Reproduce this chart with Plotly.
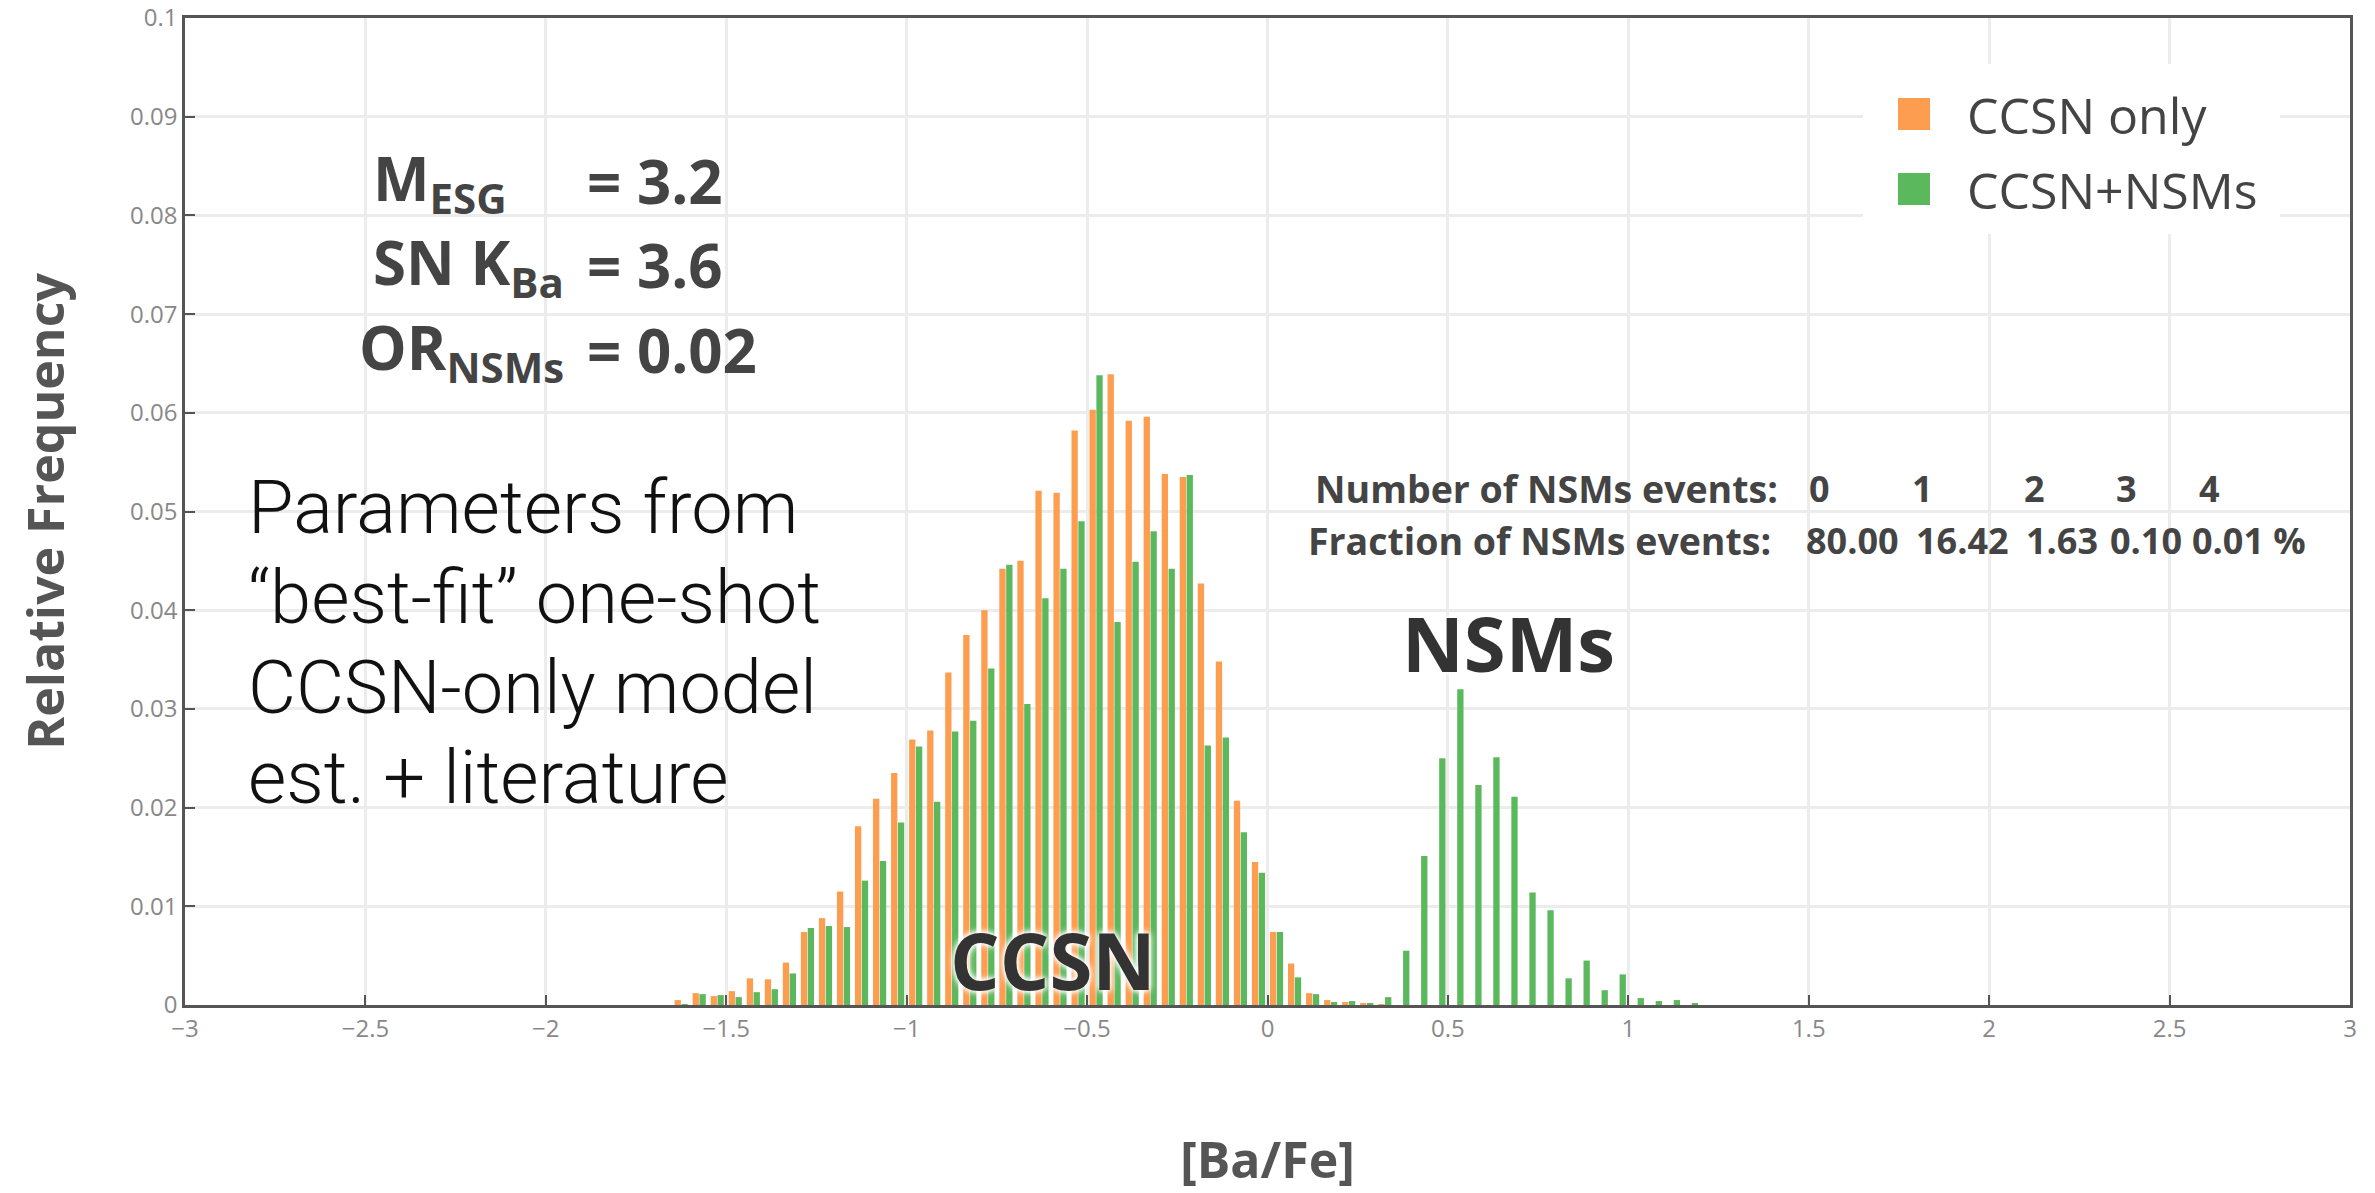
import plotly.graph_objects as go

# ---------------- data ----------------
bin_centers = [-1.625, -1.575, -1.525, -1.475, -1.425, -1.375, -1.325, -1.275, -1.225, -1.175,
               -1.125, -1.075, -1.025, -0.975, -0.925, -0.875, -0.825, -0.775, -0.725, -0.675,
               -0.625, -0.575, -0.525, -0.475, -0.425, -0.375, -0.325, -0.275, -0.225, -0.175,
               -0.125, -0.075, -0.025, 0.025, 0.075, 0.125, 0.175, 0.225, 0.275, 0.325,
               0.375, 0.425, 0.475, 0.525, 0.575, 0.625, 0.675, 0.725, 0.775, 0.825,
               0.875, 0.925, 0.975, 1.025, 1.075, 1.125, 1.175]

ccsn_only = [0.0005, 0.0012, 0.0009, 0.0014, 0.0027, 0.0026, 0.0043, 0.0074, 0.0088, 0.0115,
             0.0181, 0.0209, 0.0235, 0.0269, 0.0278, 0.0337, 0.0375, 0.0400, 0.0442, 0.0450,
             0.0521, 0.0519, 0.0582, 0.0603, 0.0639, 0.0592, 0.0596, 0.0538, 0.0535, 0.0427,
             0.0348, 0.0207, 0.0145, 0.0074, 0.0042, 0.0012, 0.0005, 0.0003, 0.0002, 0.0001,
             0, 0, 0, 0, 0, 0, 0, 0, 0, 0,
             0, 0, 0, 0, 0, 0, 0]

ccsn_nsms = [0.0001, 0.0011, 0.0010, 0.0008, 0.0013, 0.0016, 0.0032, 0.0078, 0.0080, 0.0079,
             0.0126, 0.0146, 0.0185, 0.0262, 0.0206, 0.0277, 0.0288, 0.0341, 0.0446, 0.0305,
             0.0412, 0.0442, 0.0490, 0.0638, 0.0388, 0.0449, 0.0480, 0.0442, 0.0537, 0.0263,
             0.0271, 0.0175, 0.0134, 0.0074, 0.0028, 0.0011, 0.0003, 0.0004, 0.0002, 0.0008,
             0.0055, 0.0151, 0.0250, 0.0320, 0.0223, 0.0251, 0.0211, 0.0114, 0.0096, 0.0027,
             0.0045, 0.0015, 0.0031, 0.0007, 0.0004, 0.0005, 0.0002]

series_names = ["CCSN only", "CCSN+NSMs"]
series_colors = ["#fd9d4f", "#5cb85c"]

nsm_event_counts = ["0", "1", "2", "3", "4"]
nsm_event_fractions = ["80.00", "16.42", "1.63", "0.10", "0.01 %"]

params_lines = [("M<sub>ESG</sub>", "= 3.2"), ("SN K<sub>Ba</sub>", "= 3.6"), ("OR<sub>NSMs</sub>", "= 0.02")]
note_lines = ["Parameters from", "\u201cbest-fit\u201d one-shot", "CCSN-only model", "est. + literature"]

# ---------------- layout helpers ----------------
W, H = 2375, 1193
L, R, T, B = 185, 25, 18, 188


def px(x):
    return (x - L) / (W - L - R)


def py(y):
    return (H - B - y) / (H - T - B)


fig = go.Figure()
fig.add_trace(go.Bar(x=bin_centers, y=ccsn_only, name=series_names[0],
                     marker=dict(color=series_colors[0], line=dict(width=0))))
fig.add_trace(go.Bar(x=bin_centers, y=ccsn_nsms, name=series_names[1],
                     marker=dict(color=series_colors[1], line=dict(width=0))))

BOLD = "Open Sans"
ann = []
shapes = []

# parameter block
p_rows = [(509, 181), (566, 265), (566, 350)]
for (lhs, rhs), (xr, yc) in zip(params_lines, p_rows):
    ann.append(dict(text="<b>" + lhs + "</b>", x=px(xr), y=py(yc), xanchor="right", yanchor="middle",
                    font=dict(family=BOLD, size=60, color="#444")))
    ann.append(dict(text="<b>" + rhs + "</b>", x=px(585), y=py(yc), xanchor="left", yanchor="middle",
                    font=dict(family=BOLD, size=60, color="#444")))

# note block
for i, line in enumerate(note_lines):
    ann.append(dict(text=line, x=px(246), y=py(507 + 90 * i), xanchor="left", yanchor="middle",
                    font=dict(family="Roboto", size=74, color="#111", weight=300)))

# NSM events table
TAB = 36
ann.append(dict(text="<b>Number of NSMs events:</b>", x=px(1313), y=py(488), xanchor="left", yanchor="middle",
                font=dict(family=BOLD, size=37.5, color="#444")))
ann.append(dict(text="<b>Fraction of NSMs events:</b>", x=px(1306), y=py(540), xanchor="left", yanchor="middle",
                font=dict(family=BOLD, size=37.5, color="#444")))
for t, xc in zip(nsm_event_counts, [1819, 1922, 2034, 2126, 2209]):
    ann.append(dict(text="<b>" + t + "</b>", x=px(xc), y=py(488), xanchor="center", yanchor="middle",
                    font=dict(family=BOLD, size=TAB, color="#444")))
for t, xl in zip(nsm_event_fractions, [1804, 1914, 2024, 2108, 2190]):
    ann.append(dict(text="<b>" + t + "</b>", x=px(xl), y=py(540), xanchor="left", yanchor="middle",
                    font=dict(family=BOLD, size=TAB, color="#444")))

# peak labels
halo = "0 0 4px white, 0 0 6px white, 0 0 8px white"
ann.append(dict(text="<b>CCSN</b>", x=px(1053), y=py(960), xanchor="center", yanchor="middle",
                font=dict(family=BOLD, size=78, color="#333", shadow=halo)))
ann.append(dict(text="<b>NSMs</b>", x=px(1508), y=py(642), xanchor="center", yanchor="middle",
                font=dict(family=BOLD, size=76, color="#333", shadow=halo)))

# legend (drawn manually for large swatches)
shapes.append(dict(type="rect", xref="paper", yref="paper", x0=px(1863), x1=px(2280), y0=py(234), y1=py(64),
                   fillcolor="white", line=dict(width=0), layer="above"))
for name, col, yc in zip(series_names, series_colors, [114, 189]):
    shapes.append(dict(type="rect", xref="paper", yref="paper", x0=px(1898), x1=px(1930),
                       y0=py(yc + 16), y1=py(yc - 16), fillcolor=col, line=dict(width=0), layer="above"))
    ann.append(dict(text=name, x=px(1965), y=py(yc + 1), xanchor="left", yanchor="middle",
                    font=dict(family="Open Sans", size=50, color="#444")))

for a in ann:
    a.update(xref="paper", yref="paper", showarrow=False)

axis_common = dict(showline=True, linecolor="#555", linewidth=2.5, mirror=True,
                   showgrid=True, gridcolor="#ececec", gridwidth=2.5, zeroline=False,
                   ticks="inside", ticklen=10, tickwidth=2, tickcolor="#555",
                   ticklabeloverflow="allow",
                   tickfont=dict(family="Open Sans", size=24, color="#888"))

fig.update_layout(
    width=W, height=H,
    margin=dict(l=L, r=R, t=T, b=B, autoexpand=False),
    paper_bgcolor="white", plot_bgcolor="white",
    barmode="group", bargap=0.24, bargroupgap=0.08,
    showlegend=False,
    xaxis=dict(range=[-3, 3], dtick=0.5, tick0=0,
               title=dict(text="<b>[Ba/Fe]</b>", standoff=112,
                          font=dict(family=BOLD, size=50, color="#555")),
               **axis_common),
    yaxis=dict(range=[0, 0.1], dtick=0.01, tick0=0,
               title=dict(text="<b>Relative Frequency</b>", standoff=50,
                          font=dict(family=BOLD, size=50, color="#555")),
               **axis_common),
    annotations=ann,
    shapes=shapes,
)

fig.write_html("out.html")
